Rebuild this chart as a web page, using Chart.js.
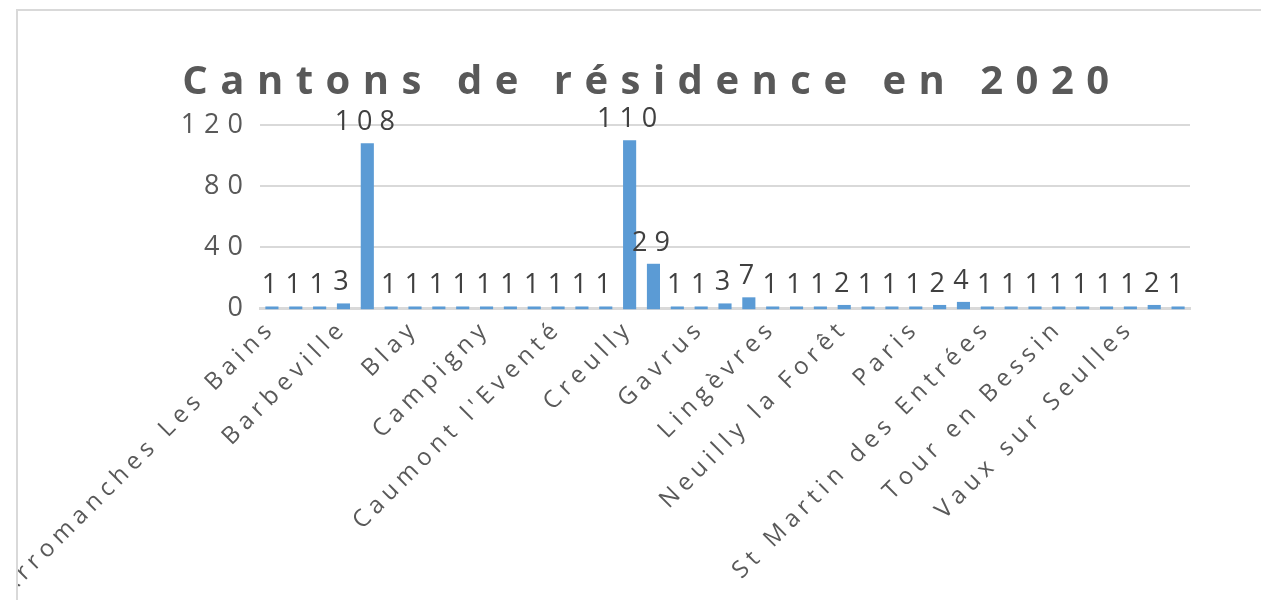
<!DOCTYPE html>
<html><head><meta charset="utf-8">
<script src="https://cdn.jsdelivr.net/npm/chart.js@4"></script>
<style>
html,body{margin:0;padding:0;background:#fff;overflow:hidden;}
#wrap{position:absolute;left:16px;top:9px;width:1243px;height:589px;border-left:2px solid #d9d9d9;border-top:2px solid #d9d9d9;}
canvas{display:block;}
</style></head><body>
<div id="wrap"><canvas id="c" width="1243" height="589"></canvas></div>
<script>
const chartTitle = 'Cantons de résidence en 2020';
const categories = [
  'Arromanches Les Bains','','','Barbeville','','','Blay','','','Campigny','','',
  "Caumont l'Eventé",'','','Creully','','','Gavrus','','','Lingèvres','','',
  'Neuilly la Forêt','','','Paris','','','St Martin des Entrées','','',
  'Tour en Bessin','','','Vaux sur Seulles','',''
];
const values = [1,1,1,3,108,1,1,1,1,1,1,1,1,1,1,110,29,1,1,3,7,1,1,1,2,1,1,1,2,4,1,1,1,1,1,1,1,2,1];
const yTickLabels = [0,40,80,120];

const FONT = '"Open Sans", "DejaVu Sans", sans-serif';

function spaced(scale, spacing){
  if (scale._spacedPatch) return;
  const orig = scale.drawLabels;
  scale.drawLabels = function(area){
    const c = this.ctx; c.save(); c.letterSpacing = spacing; orig.call(this, area); c.restore();
  };
  scale._spacedPatch = true;
}

const extras = {
  id: 'extras',
  afterUpdate(chart){
    spaced(chart.scales.x, '5.5px');
    spaced(chart.scales.y, '8px');
  },
  afterDatasetsDraw(chart){
    const ctx = chart.ctx;
    const meta = chart.getDatasetMeta(0);
    ctx.save();
    ctx.font = '27px ' + FONT;
    ctx.fillStyle = '#404040';
    ctx.textAlign = 'center';
    ctx.textBaseline = 'alphabetic';
    ctx.letterSpacing = '7px';
    meta.data.forEach((bar, i) => {
      ctx.fillText(String(values[i]), bar.x + 1, bar.y - 13);
    });
    ctx.restore();
  },
  afterDraw(chart){
    const ctx = chart.ctx;
    ctx.save();
    ctx.font = 'bold 40px ' + FONT;
    ctx.fillStyle = '#595959';
    ctx.textAlign = 'center';
    ctx.textBaseline = 'alphabetic';
    ctx.letterSpacing = '12.5px';
    ctx.fillText(chartTitle, 634, 83);
    ctx.restore();
  }
};

new Chart(document.getElementById('c'), {
  type: 'bar',
  data: {
    labels: categories,
    datasets: [{
      data: values,
      backgroundColor: '#5B9BD5',
      borderWidth: 0,
      barPercentage: 0.55,
      categoryPercentage: 1.0,
      base: -0.8,
      clip: false
    }]
  },
  options: {
    responsive: false,
    animation: false,
    layout: { padding: { top: 114, right: 71, left: 0, bottom: 0 } },
    plugins: { legend: { display: false }, tooltip: { enabled: false }, title: { display: false } },
    scales: {
      x: {
        grid: { display: false, drawTicks: false },
        border: { display: true, color: '#d9d9d9', width: 3 },
        ticks: {
          autoSkip: false, minRotation: 45, maxRotation: 45, padding: 6,
          color: '#595959', font: { family: FONT, size: 24 }
        },
        afterFit(scale){ scale.height = 292; scale.paddingLeft = 0; scale.paddingRight = 0; }
      },
      y: {
        min: 0, max: 120,
        grid: { color: '#d9d9d9', lineWidth: 2, drawTicks: false },
        border: { display: false },
        ticks: {
          stepSize: 20, padding: 9, color: '#595959',
          font: { family: FONT, size: 27 },
          callback: (v) => yTickLabels.includes(v) ? String(v) : ''
        },
        afterFit(scale){ scale.width = 242; }
      }
    }
  },
  plugins: [extras]
});
</script>
</body></html>
